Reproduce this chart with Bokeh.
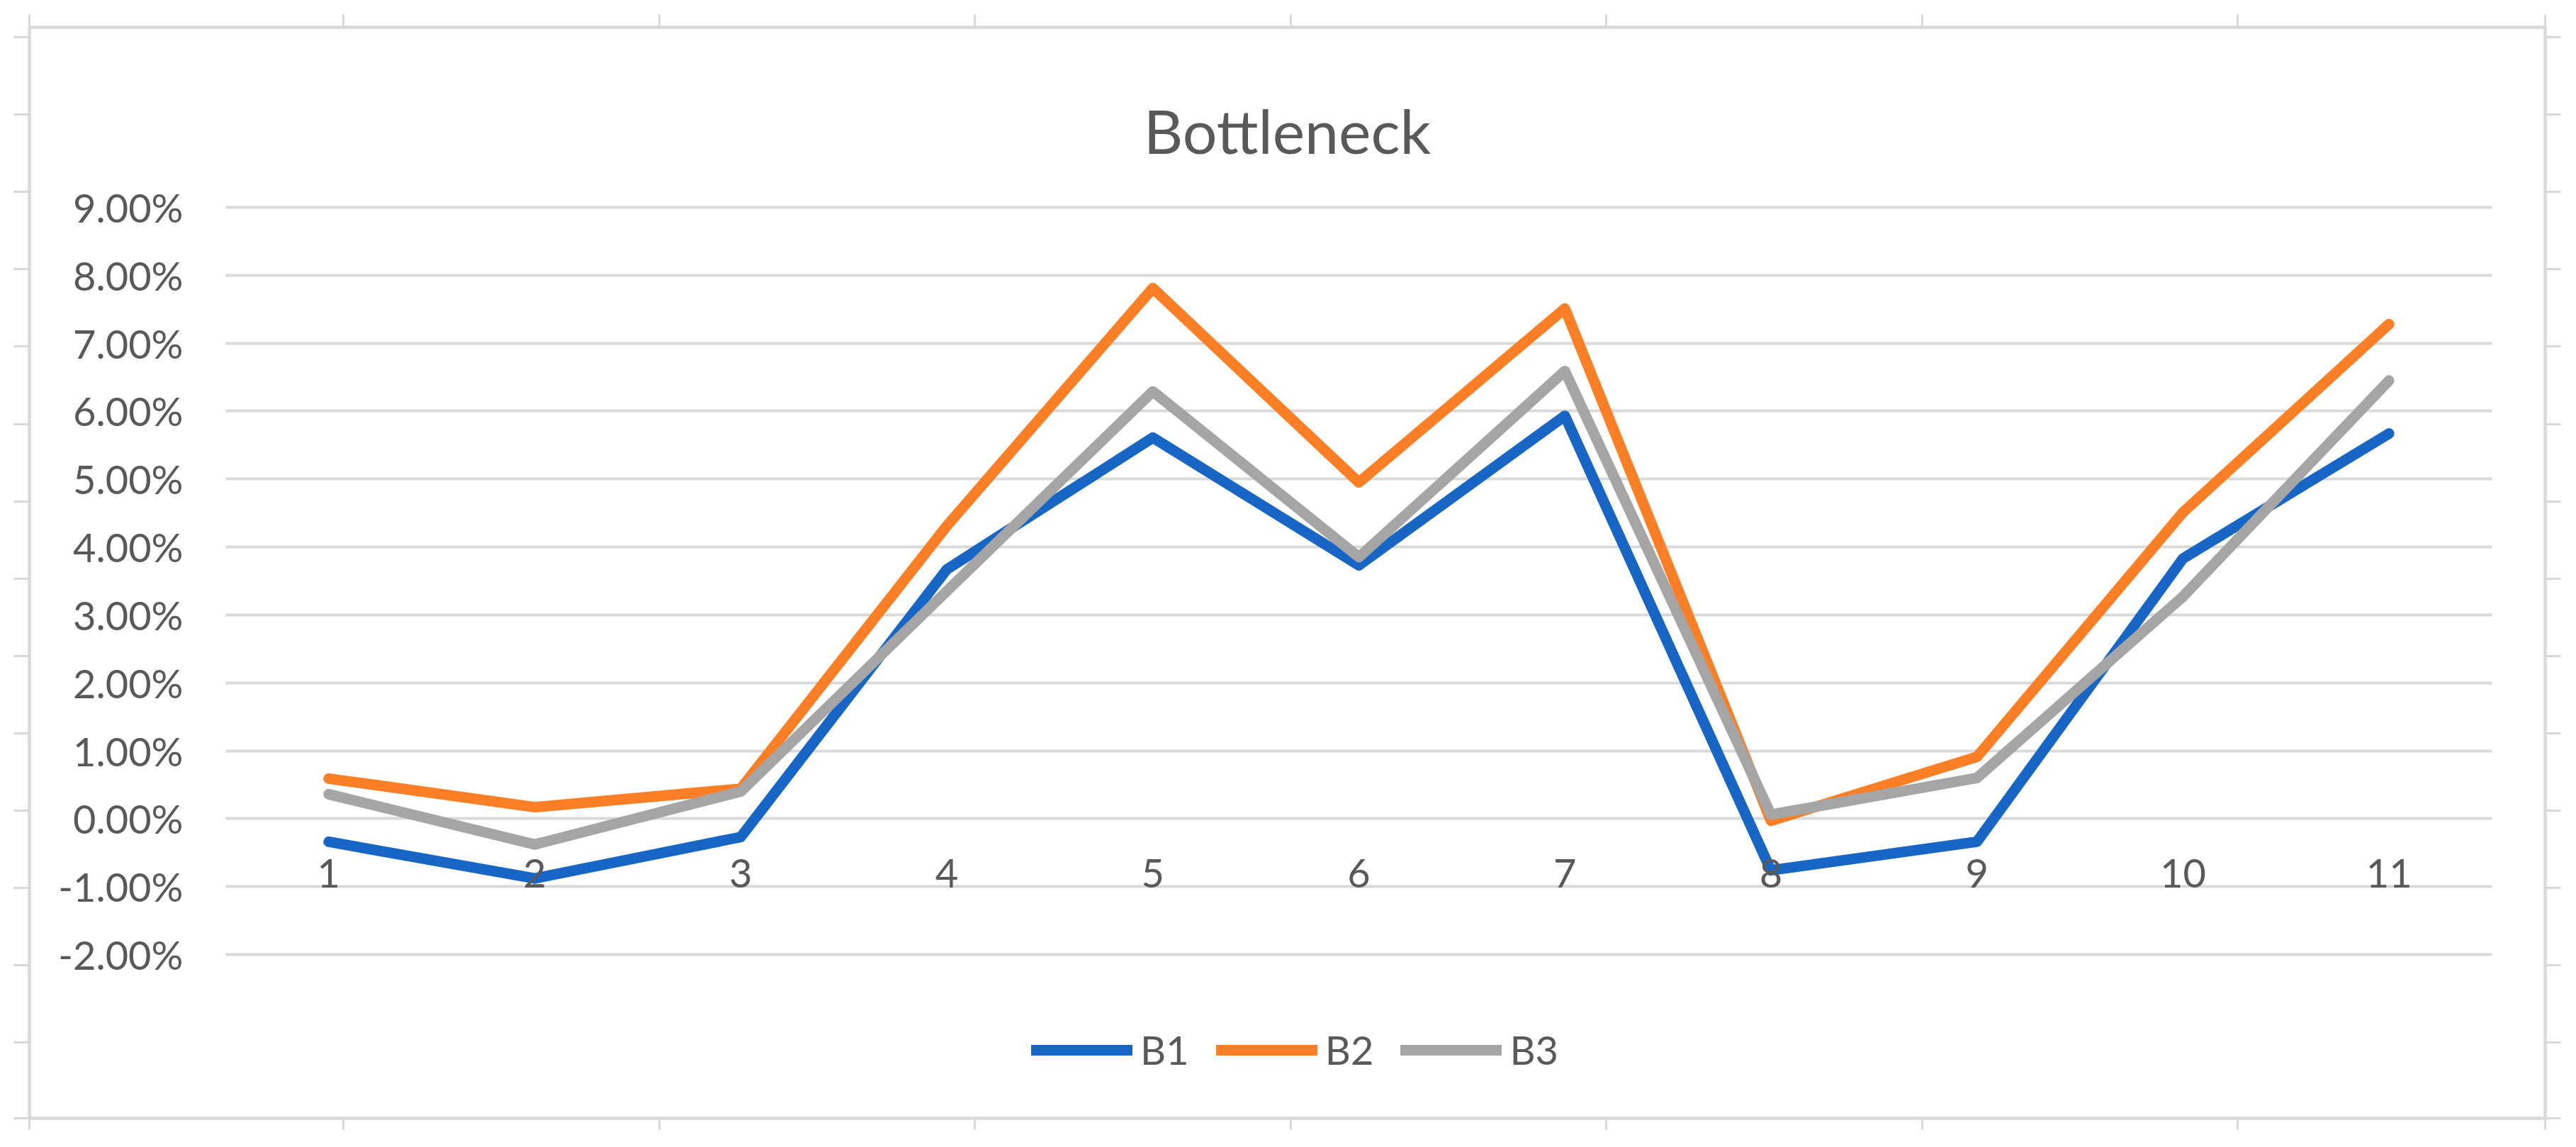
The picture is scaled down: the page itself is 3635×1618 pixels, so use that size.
from bokeh.plotting import figure
from bokeh.models import (Range1d, FixedTicker, PrintfTickFormatter, LinearAxis,
                          Legend, LegendItem, Label, Grid)
from bokeh.embed import file_html
from bokeh.resources import INLINE

# ---------------- data ----------------
categories = [1, 2, 3, 4, 5, 6, 7, 8, 9, 10, 11]
x_labels = ["1", "2", "3", "4", "5", "6", "7", "8", "9", "10", "11"]
b1 = [-0.34, -0.88, -0.27, 3.67, 5.61, 3.73, 5.93, -0.76, -0.34, 3.83, 5.67]
b2 = [0.59, 0.17, 0.44, 4.31, 7.81, 4.95, 7.51, -0.03, 0.91, 4.51, 7.28]
b3 = [0.36, -0.38, 0.40, 3.35, 6.29, 3.85, 6.59, 0.06, 0.60, 3.27, 6.45]
y_ticks = [-2, -1, 0, 1, 2, 3, 4, 5, 6, 7, 8, 9]
series_names = ["B1", "B2", "B3"]
title_text = "Bottleneck"

# ---------------- layout (page pixels) ----------------
PAGE = 0
W, H = 3632, 1616
FL, FR, FT, FB = 41, 3591, 38, 1577      # chart-area border
PL, PR, PT, PB = 318, 3516, 292, 1346    # plot area
x_lo, x_hi = 0.5, 11.5
y_lo, y_hi = -2, 9
xs = (PR - PL) / (x_hi - x_lo)
ys = (PB - PT) / (y_hi - y_lo)

FONT = "Lato"
TXT = "#595959"
GRID = "#d9d9d9"
colors = ["#1766C6", "#FC7F25", "#A5A5A5"]

p = figure(width=W, height=H,
           x_range=Range1d(x_lo - (PL - FL) / xs, x_hi + (FR - PR) / xs),
           y_range=Range1d(y_lo - (FB - PB) / ys, y_hi + (PT - FT) / ys),
           output_backend="svg", toolbar_location=None,
           min_border_left=FL - PAGE, min_border_right=PAGE + W - FR,
           min_border_top=FT - PAGE, min_border_bottom=PAGE + H - FB,
           background_fill_color="white", border_fill_color="white")
p.outline_line_color = GRID
p.outline_line_width = 4

# x axis at y = 0
xa = p.xaxis[0]
xa.fixed_location = 0
xa.ticker = FixedTicker(ticks=categories)
xa.major_label_overrides = {c: l for c, l in zip(categories, x_labels)}
xa.axis_line_color = None
xa.major_tick_line_color = None
xa.minor_tick_line_color = None
xa.major_tick_out = 0
xa.major_tick_in = 0
xa.major_label_standoff = 57
xa.major_label_text_font = FONT
xa.major_label_text_font_size = "56px"
xa.major_label_text_color = TXT

# y axis at left edge of plot area
ya = p.yaxis[0]
ya.fixed_location = x_lo
ya.ticker = FixedTicker(ticks=y_ticks)
ya.formatter = PrintfTickFormatter(format="%.2f%%")
ya.axis_line_color = None
ya.major_tick_line_color = None
ya.minor_tick_line_color = None
ya.major_tick_out = 0
ya.major_tick_in = 0
ya.major_label_standoff = 60
ya.major_label_text_font = FONT
ya.major_label_text_font_size = "56px"
ya.major_label_text_color = TXT

# grid
p.xgrid.visible = False
yg = p.ygrid[0]
yg.ticker = FixedTicker(ticks=y_ticks)
yg.grid_line_color = GRID
yg.grid_line_width = 4
if "cross_bounds" in Grid.properties():
    yg.cross_bounds = (x_lo, x_hi)
else:
    yg.visible = False
    p.segment(x0=[x_lo] * len(y_ticks), x1=[x_hi] * len(y_ticks), y0=y_ticks, y1=y_ticks,
              line_color=GRID, line_width=4)

# decorative outer ticks (sheet cell boundaries around the chart)
p.extra_x_ranges = {"px": Range1d(FL, FR)}
p.extra_y_ranges = {"py": Range1d(FB, FT)}
col_ticks = [FL] + [484 + 445.5 * i for i in range(7)] + [FR]
row_ticks = [52 + 109.1 * i for i in range(14)] + [FB]


def deco(ax, ticks, out):
    ax.ticker = FixedTicker(ticks=ticks)
    ax.major_tick_out = out
    ax.major_tick_in = 0
    ax.minor_tick_line_color = None
    ax.major_tick_line_color = GRID
    ax.major_tick_line_width = 3
    ax.axis_line_color = GRID
    ax.axis_line_width = 4
    ax.major_label_overrides = {t: "" for t in ticks}
    ax.major_label_text_font_size = "1px"
    ax.major_label_text_color = None
    ax.major_label_standoff = 0
    return ax


p.add_layout(deco(LinearAxis(y_range_name="py"), row_ticks, 22), "left")
p.add_layout(deco(LinearAxis(y_range_name="py"), row_ticks, 22), "right")
p.add_layout(deco(LinearAxis(x_range_name="px"), col_ticks, 18), "above")
p.add_layout(deco(LinearAxis(x_range_name="px"), col_ticks, 16), "below")

# series
renderers = []
for name, vals, c in zip(series_names, [b1, b2, b3], colors):
    r = p.line(categories, vals, line_color=c, line_width=15,
               line_cap="round", line_join="round")
    renderers.append(r)

legend = Legend(items=[LegendItem(label=n, renderers=[r]) for n, r in zip(series_names, renderers)],
                orientation="horizontal", location=(1414, 63), padding=0, margin=0,
                spacing=38, glyph_width=143, glyph_height=40, label_standoff=11,
                label_text_font=FONT, label_text_font_size="56px", label_text_color=TXT,
                border_line_color=None, background_fill_alpha=0)
p.add_layout(legend)

title = Label(x=x_lo + (1816 - PL) / xs, y=y_hi + (PT - 183) / ys, text=title_text,
              text_align="center", text_baseline="alphabetic", text_font=FONT,
              text_font_size="86px", text_color=TXT)
p.add_layout(title)

open("out.html", "w").write(file_html(p, INLINE))
